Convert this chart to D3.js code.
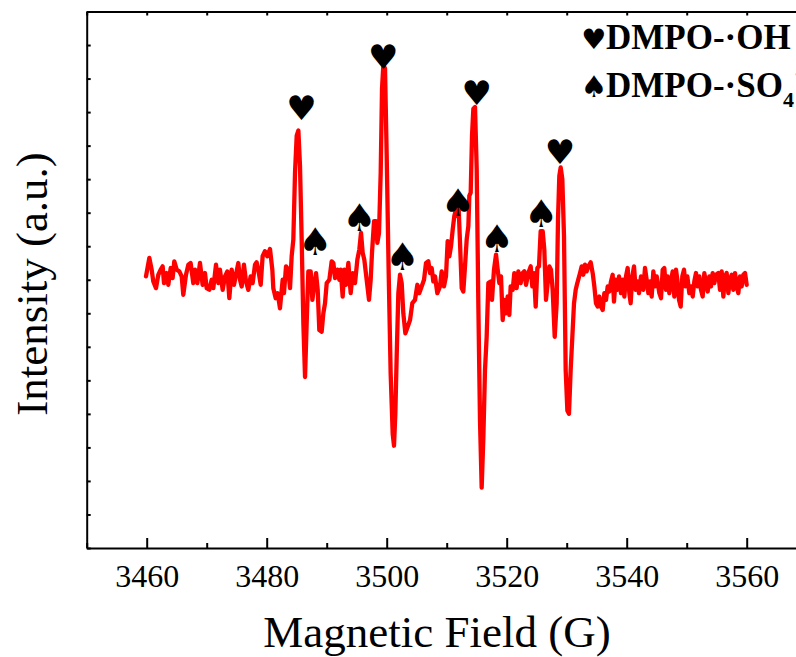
<!DOCTYPE html>
<html>
<head>
<meta charset="utf-8">
<script src="https://cdn.jsdelivr.net/npm/d3@7"></script>
<style>
  body { margin: 0; background: #fff; }
  svg { display: block; }
  .serif { font-family: 'Liberation Serif', 'Times New Roman', Tinos, 'Nimbus Roman', 'DejaVu Serif', serif; }
  .suit { font-family: 'DejaVu Sans', sans-serif; }
</style>
</head>
<body>
<svg id="chart" width="796" height="657"></svg>
<script>
// EPR spectrum, field in G, intensity in a.u.
const field = [
  3459.88, 3460.44, 3460.83, 3461.1, 3461.55, 3461.94, 3462.33, 3462.66, 3462.88, 3463.32,
  3463.6, 3464.0, 3464.32, 3464.6, 3465.0, 3465.44, 3465.83, 3466.1, 3466.55, 3466.94,
  3467.32, 3467.77, 3468.05, 3468.44, 3468.88, 3469.32, 3469.71, 3470.0, 3470.44, 3470.83,
  3471.1, 3471.55, 3471.94, 3472.21, 3472.66, 3473.05, 3473.44, 3473.77, 3474.16, 3474.55,
  3474.88, 3475.27, 3475.55, 3475.83, 3476.21, 3476.55, 3476.94, 3477.32, 3477.66, 3478.05,
  3478.32, 3478.6, 3479.0, 3479.32, 3479.71, 3480.1, 3480.55, 3480.94, 3481.1, 3481.5,
  3481.83, 3482.21,
  3482.66, 3482.88, 3483.22, 3483.61, 3483.89, 3484.16, 3484.44, 3484.72, 3485.0, 3485.28,
  3485.55, 3485.83, 3486.11, 3486.39, 3486.66, 3486.94, 3487.33, 3487.61, 3487.89, 3488.22,
  3488.5, 3488.77, 3489.16, 3489.44, 3489.72, 3490.0, 3490.44, 3490.83, 3491.11, 3491.39,
  3491.77, 3492.11, 3492.33, 3492.66, 3492.94, 3493.22, 3493.61, 3494.0, 3494.33, 3494.72,
  3495.11, 3495.44, 3495.72, 3496.0, 3496.27, 3496.66, 3497.05, 3497.33, 3497.55, 3497.89,
  3498.22, 3498.44, 3498.72, 3499.0, 3499.22, 3499.44, 3499.72, 3500.0, 3500.33, 3500.66,
  3501.0, 3501.22, 3501.44, 3501.66, 3501.94, 3502.22, 3502.5, 3502.77, 3503.11, 3503.5,
  3503.89, 3504.27, 3504.72, 3505.11, 3505.44,
  3506.22, 3506.55, 3506.94, 3507.22, 3507.5, 3507.77, 3508.05, 3508.44, 3508.88, 3509.16,
  3509.55, 3509.88, 3510.16, 3510.44, 3510.72, 3511.0, 3511.27, 3511.55, 3511.77, 3512.0,
  3512.22, 3512.5, 3512.77, 3513.05, 3513.33, 3513.61, 3513.77, 3514.0, 3514.22, 3514.44,
  3514.72, 3515.0, 3515.27, 3515.55, 3515.83, 3516.11, 3516.38, 3516.66, 3516.94, 3517.33,
  3517.55, 3517.88, 3518.22, 3518.5, 3518.77, 3519.05, 3519.33, 3519.61, 3519.88, 3520.16,
  3520.44, 3520.66, 3521.0, 3521.27, 3521.66, 3521.94, 3522.33, 3522.66, 3522.94, 3523.22,
  3523.61, 3524.0, 3524.27, 3524.55, 3524.83, 3525.11, 3525.38, 3525.66, 3526.0, 3526.27,
  3526.55, 3526.83, 3527.11, 3527.38, 3527.66, 3528.0, 3528.33, 3528.55, 3528.77, 3529.0,
  3529.27, 3529.55, 3529.83, 3530.11, 3530.38, 3530.66, 3530.94, 3531.22, 3531.5, 3531.77,
  3532.22, 3532.5, 3532.77, 3533.05, 3533.33, 3533.61, 3534.0, 3534.33, 3534.61, 3534.88,
  3535.16, 3535.44, 3535.72, 3536.0, 3536.27, 3536.55, 3536.83, 3537.11, 3537.38, 3537.66,
  3537.88, 3538.16, 3538.44, 3538.72, 3539.05, 3539.33, 3539.61, 3539.88, 3540.16, 3540.44,
  3540.66, 3540.94, 3541.22, 3541.5, 3541.77, 3542.05, 3542.38, 3542.77, 3543.05, 3543.33,
  3543.61, 3543.88, 3544.16, 3544.44, 3544.72, 3545.0, 3545.27, 3545.44, 3545.72, 3546.0,
  3546.27, 3546.55, 3546.83, 3547.11, 3547.38, 3547.66, 3547.94, 3548.22, 3548.44, 3548.72,
  3549.0, 3549.27, 3549.55, 3549.83, 3550.11, 3550.44, 3550.72, 3551.0, 3551.27, 3551.55,
  3551.83, 3552.11, 3552.38, 3552.66, 3552.94, 3553.22, 3553.5, 3553.77, 3554.05, 3554.33,
  3554.61, 3554.88, 3555.27, 3555.55, 3555.83, 3556.11, 3556.38, 3556.66, 3556.94, 3557.22,
  3557.5, 3557.77, 3558.05, 3558.33, 3558.61, 3558.88, 3559.16, 3559.44, 3559.72, 3560.0
];
const intensity = [
  10, 65, 30, -5, -25, 15, 30, 40, -10, 20,
  -15, 35, 5, 55, 30, 25, 10, -45, 15, 45,
  50, -10, 30, -10, 50, -15, 20, -25, -30, 0,
  -25, 45, -10, 30, -30, 10, 25, -55, 30, -15,
  15, 50, 0, -20, 45, -5, -30, 10, -10, 45,
  52, 30, -15, 70, 85, 70, 92, 30, -25, -55,
  -40, -85,
  0, -40, 40, 30, -25, 70, 120, 320, 430, 445,
  340, 120, -130, -290, -130, 25, 25, -60, -20, 20,
  -30, -150, -155, -100, -70, -10, 0, 55, 50, 5,
  30, 0, 30, -50, 30, -15, 50, -40, 20, -10,
  60, 90, 140, 80, 60, 0, -60, 0, 80, 175,
  175, 110, 140, 320, 570, 640, 630, 370, 20, -280,
  -460, -495, -400, -230, -40, 15, -10, -100, -160, -140,
  -120, -70, -60, -15, -40,
  0, 50, 55, 20, 35, -5, 10, -40, -20, 25,
  -20, 10, 115, 70, 100, 150, 190, 210, 190, 210,
  110, -25, -35, 40, 120, 160, 250, 260, 430, 510,
  515, 330, -70, -420, -620, -470, -270, -170, -10, -5,
  -60, 30, 75, 30, -10, 10, -120, -60, -100, -50,
  -105, -20, -30, 20, -25, 25, -10, 20, 25, -15,
  20, 40, -20, 20, -80, 35, 40, 145, 145, 90,
  -60, -10, 40, 30, -30, -170, -70, 180, 310, 335,
  300, 130, -270, -390, -400, -270, -170, -70, -30, -10,
  20, 40, 15, 45, 25, 40, 52, 20, -20, -70,
  -80, -50, -80, -90, -40, -60, -20, -35, -5, 15,
  -65, 0, -30, 10, -40, 0, -50, 10, 35, -40,
  -70, 10, 40, -30, -5, -40, 10, -30, 35, 0,
  -40, -5, -50, 25, -20, 10, -20, -40, -55, 30,
  35, -30, 10, -40, -5, 25, -50, 30, 0, -60,
  -80, 10, 30, -20, 10, -40, -20, -50, -5, 20,
  -20, 10, -30, -50, 20, -10, -35, 10, -20, 20,
  -10, 15, 20, -30, 25, -50, 10, 20, -40, 0,
  15, -30, 20, -20, -40, 10, -20, 15, 20, -15
];

// peak markers: ♥ = DMPO-·OH, ♠ = DMPO-·SO4·−
const heartField = [3485.8, 3499.44, 3515.0, 3528.88];
const heartLevel = [475, 630, 520, 345];
const spadeField = [3488.05, 3495.44, 3502.6, 3511.83, 3518.33, 3525.72];
const spadeLevel = [75, 145, 30, 190, 82, 158];

const xMajor = [3460, 3480, 3500, 3520, 3540, 3560];
const xMinor = [3450, 3470, 3490, 3510, 3530, 3550, 3570];
const yTicks = d3.range(-800, 801, 100);

const svg = d3.select('#chart');
const margin = {top: 11.5, left: 86.7, bottom: 109};
const height = 657 - margin.top - margin.bottom;

const x = d3.scaleLinear().domain([3450, 3570]).range([margin.left, margin.left + 720]);
const y = d3.scaleLinear().domain([-800, 800]).range([margin.top + height, margin.top]);

/**
 * axes
 */
const styleAxis = g => {
  g.attr('font-family', null).attr('font-size', null);
  g.select('.domain').attr('stroke', '#000').attr('stroke-width', 2);
  g.selectAll('.tick line').attr('stroke', '#000').attr('stroke-width', 2);
};

svg.append('g')
  .attr('class', 'serif')
  .attr('transform', `translate(0,${y(-800)})`)
  .call(d3.axisBottom(x).tickValues(xMajor).tickSize(-10).tickSizeOuter(0).tickPadding(16).tickFormat(d3.format('d')))
  .call(styleAxis)
  .call(g => g.selectAll('text').style('font-size', '32px').attr('fill', '#000'));

svg.append('g')
  .attr('transform', `translate(0,${y(-800)})`)
  .call(d3.axisBottom(x).tickValues(xMinor).tickSize(-5).tickSizeOuter(0).tickFormat(''))
  .call(styleAxis)
  .call(g => g.select('.domain').remove());

svg.append('g')
  .attr('transform', `translate(0,${y(800)})`)
  .call(d3.axisTop(x).tickValues(xMajor.concat(xMinor)).tickSize(-4).tickSizeOuter(0).tickFormat(''))
  .call(styleAxis);

svg.append('g')
  .attr('transform', `translate(${x(3450)},0)`)
  .call(d3.axisLeft(y).tickValues(yTicks).tickSize(-4).tickSizeOuter(0).tickFormat(''))
  .call(styleAxis);

/**
 * spectrum
 */
const points = field.map((f, i) => [f, intensity[i]]);
const line = d3.line().x(d => x(d[0])).y(d => y(d[1]));

svg.append('path')
  .datum(points)
  .attr('d', line)
  .attr('fill', 'none')
  .attr('stroke', '#ff0000')
  .attr('stroke-width', 4.3)
  .attr('stroke-linejoin', 'round')
  .attr('stroke-linecap', 'round');

/**
 * peak marks
 */
svg.selectAll('.heart').data(heartField).enter().append('text')
  .attr('class', 'heart suit')
  .attr('x', d => x(d))
  .attr('y', (d, i) => y(heartLevel[i]))
  .attr('text-anchor', 'middle')
  .style('font-size', '34px')
  .text('♥');

svg.selectAll('.spade').data(spadeField).enter().append('text')
  .attr('class', 'spade suit')
  .attr('x', d => x(d))
  .attr('y', (d, i) => y(spadeLevel[i]))
  .attr('text-anchor', 'middle')
  .style('font-size', '38px')
  .text('♠');

/**
 * legend
 */
const legend = svg.append('g').style('font-weight', 'bold').attr('fill', '#000');
legend.append('text').attr('class', 'suit').attr('x', 594).attr('y', 49).attr('text-anchor', 'middle')
  .style('font-size', '28px').text('♥');
legend.append('text').attr('class', 'serif').attr('x', 606).attr('y', 49).style('font-size', '35px')
  .text('DMPO-·OH');
legend.append('text').attr('class', 'suit').attr('x', 594).attr('y', 97).attr('text-anchor', 'middle')
  .style('font-size', '30px').text('♠');
const so4 = legend.append('text').attr('class', 'serif').attr('x', 606).attr('y', 97).style('font-size', '35px');
so4.append('tspan').text('DMPO-·SO');
so4.append('tspan').style('font-size', '22px').attr('dy', 10).text('4');
so4.append('tspan').style('font-size', '22px').attr('dy', -26).text('·−');

/**
 * axis titles
 */
svg.append('text')
  .attr('class', 'serif')
  .attr('x', 437).attr('y', 647)
  .attr('text-anchor', 'middle')
  .style('font-size', '45px')
  .text('Magnetic Field (G)');

svg.append('text')
  .attr('class', 'serif')
  .attr('transform', 'translate(47,284) rotate(-90)')
  .attr('text-anchor', 'middle')
  .style('font-size', '45px')
  .text('Intensity (a.u.)');
</script>
</body>
</html>
